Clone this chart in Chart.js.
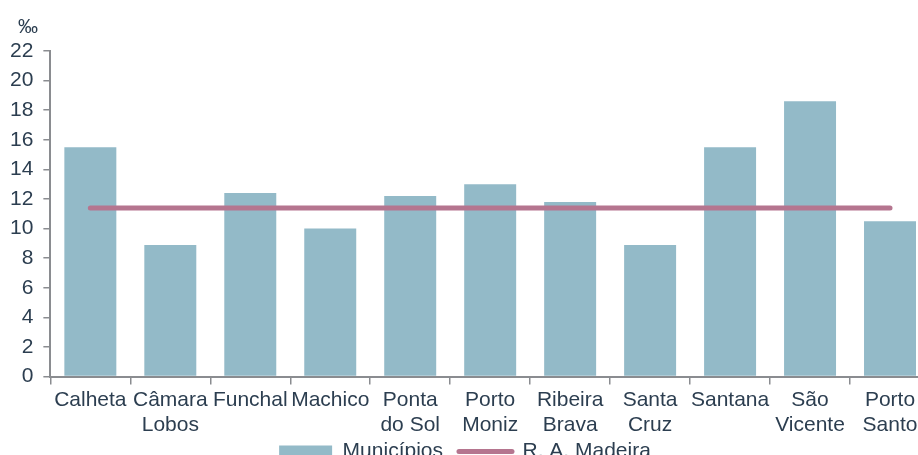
<!DOCTYPE html>
<html>
<head>
<meta charset="utf-8">
<script src="https://cdn.jsdelivr.net/npm/chart.js@4/dist/chart.umd.min.js"></script>
<style>
html,body{margin:0;padding:0;overflow:hidden;background:#fff;}
#wrap{width:930px;height:472px;}
</style>
</head>
<body>
<div id="wrap"><canvas id="c" width="930" height="472"></canvas></div>
<script>
const categories = [
  'Calheta', ['Câmara', 'Lobos'], 'Funchal', 'Machico', ['Ponta', 'do Sol'],
  ['Porto', 'Moniz'], ['Ribeira', 'Brava'], ['Santa', 'Cruz'], 'Santana',
  ['São', 'Vicente'], ['Porto', 'Santo']
];
const municipios = [15.5, 8.9, 12.4, 10.0, 12.2, 13.0, 11.8, 8.9, 15.5, 18.6, 10.5];
const regiao = [11.4, 11.4, 11.4, 11.4, 11.4, 11.4, 11.4, 11.4, 11.4, 11.4, 11.4];
const seriesNames = ['Municípios', 'R. A. Madeira'];
const yTicks = [0, 2, 4, 6, 8, 10, 12, 14, 16, 18, 20, 22];
const unitLabel = '‰';

const barColor = '#93bac8';
const lineColor = '#b5758f';
const textColor = '#2c3e50';
const axisColor = '#8a8c90';
const FONT = 'Liberation Sans, Arial, sans-serif';
const FS = 21;

const unitPlugin = {
  id: 'unitLabel',
  beforeDraw(chart) {
    // let the two-line category labels extend below the (tightened) axis box
    chart.scales.x._computeLabelArea = () => undefined;
  },
  afterDraw(chart) {
    const ctx = chart.ctx;
    ctx.save();
    ctx.fillStyle = textColor;
    ctx.font = '20px ' + FONT;
    ctx.textAlign = 'center';
    ctx.textBaseline = 'middle';
    ctx.fillText(unitLabel, 28, 27);
    ctx.restore();
  }
};

new Chart(document.getElementById('c'), {
  type: 'bar',
  data: {
    labels: categories,
    datasets: [
      {
        type: 'bar',
        label: seriesNames[0],
        data: municipios,
        backgroundColor: barColor,
        borderWidth: 0,
        barPercentage: 0.65,
        categoryPercentage: 1.0,
        order: 2
      },
      {
        type: 'line',
        label: seriesNames[1],
        data: regiao,
        borderColor: lineColor,
        backgroundColor: lineColor,
        borderWidth: 5,
        borderCapStyle: 'round',
        pointRadius: 0,
        pointHoverRadius: 0,
        fill: false,
        tension: 0,
        order: 1
      }
    ]
  },
  options: {
    responsive: false,
    animation: false,
    devicePixelRatio: 1,
    layout: { padding: { top: 51, left: 0, right: 0, bottom: 0 } },
    plugins: {
      tooltip: { enabled: false },
      legend: {
        position: 'bottom',
        labels: {
          usePointStyle: true,
          pointStyleWidth: 53,
          boxHeight: 12,
          padding: 16,
          color: textColor,
          font: { family: FONT, size: FS },
          generateLabels(chart) {
            const items = Chart.defaults.plugins.legend.labels.generateLabels(chart);
            items.sort((a, b) => a.datasetIndex - b.datasetIndex);
            items[0].pointStyle = 'rect';
            items[0].fillStyle = barColor;
            items[0].strokeStyle = barColor;
            items[0].lineWidth = 0;
            items[1].pointStyle = 'line';
            items[1].strokeStyle = lineColor;
            items[1].lineWidth = 5;
            items[1].lineCap = 'round';
            return items;
          }
        }
      }
    },
    scales: {
      x: {
        offset: true,
        afterFit(scale) { scale.height -= 16; },
        grid: { display: true, offset: true, drawOnChartArea: false, drawTicks: true, tickLength: 8, color: axisColor, lineWidth: 1.5 },
        border: { display: true, color: axisColor, width: 2 },
        ticks: {
          autoSkip: false, maxRotation: 0, minRotation: 0, padding: 3,
          color: textColor, font: { family: FONT, size: FS }
        }
      },
      y: {
        min: 0, max: 22,
        afterBuildTicks(scale) { scale.ticks = yTicks.map(v => ({ value: v })); },
        grid: { display: true, drawOnChartArea: false, drawTicks: true, tickLength: 7, color: axisColor, lineWidth: 1.5 },
        border: { display: true, color: axisColor, width: 2 },
        ticks: { padding: 10, color: textColor, font: { family: FONT, size: FS } }
      }
    }
  },
  plugins: [unitPlugin]
});
</script>
</body>
</html>
